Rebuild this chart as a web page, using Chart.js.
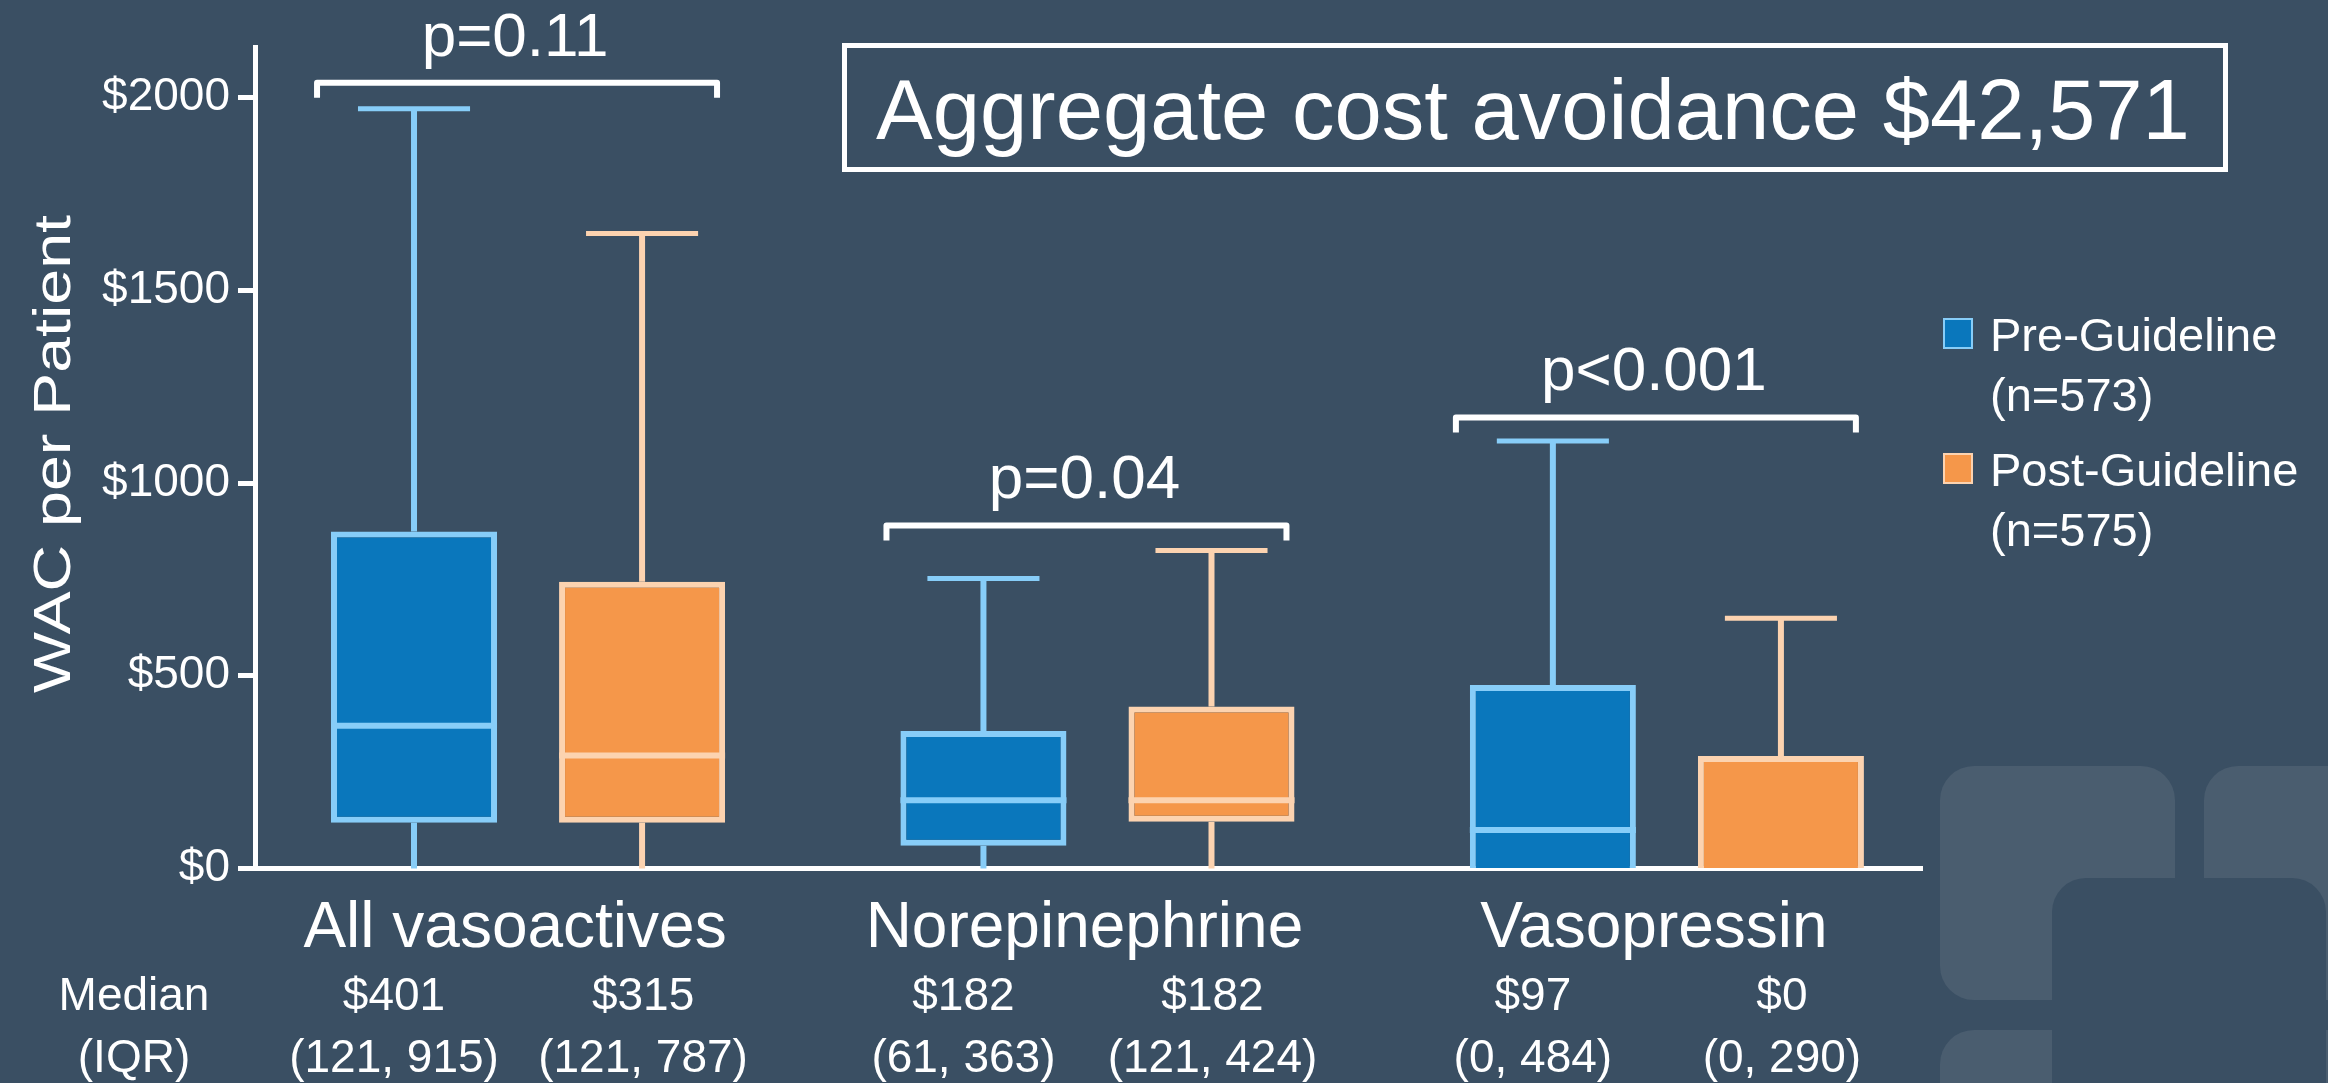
<!DOCTYPE html>
<html>
<head>
<meta charset="utf-8">
<script src="https://cdn.jsdelivr.net/npm/chart.js@4.4.1/dist/chart.umd.min.js"></script>
<style>
  html, body { margin: 0; padding: 0; background: #3a4f63; overflow: hidden; }
  #wrap { position: relative; width: 2328px; height: 1083px; }
  canvas { display: block; }
</style>
</head>
<body>
<div id="wrap"><canvas id="c" width="2328" height="1083"></canvas></div>
<script>
// ---------------- data ----------------
const categories = ['All vasoactives', 'Norepinephrine', 'Vasopressin'];
const seriesNames = ['Pre-Guideline', 'Post-Guideline'];
const seriesN = [573, 575];

// box-plot values as drawn (WAC per patient, $)
const preMin    = [0, 0, 0];
const preQ1     = [119, 59, 0];
const preMedian = [370, 177, 100];
const preQ3     = [874, 357, 476];
const preMax    = [1971, 752, 1109];

const postMin    = [0, 0, 0];
const postQ1     = [119, 121, 0];
const postMedian = [293, 177, 0];
const postQ3     = [744, 420, 292];
const postMax    = [1647, 825, 649];

// printed summary values under the chart
const prePrintMedian  = [401, 182, 97];
const prePrintQ1      = [121, 61, 0];
const prePrintQ3      = [915, 363, 484];
const postPrintMedian = [315, 182, 0];
const postPrintQ1     = [121, 121, 0];
const postPrintQ3     = [787, 424, 290];

// significance annotations
const pLabels = ['p=0.11', 'p=0.04', 'p<0.001'];
const bracketLevel = [2038, 890, 1170];

const yTicks = [0, 500, 1000, 1500, 2000];
const yAxisTitle = 'WAC per Patient';
const aggregateText = 'Aggregate cost avoidance $42,571';

// ---------------- style ----------------
const FONT = "'Liberation Sans', Arial, Helvetica, sans-serif";
const BG = '#3a4f63';
const DECO = '#4a5d6f';
const preFill = '#0a77bc', preLine = '#87cdf8';
const postFill = '#f5974a', postLine = '#fcd3b0';

const stats = [
  { min: preMin, q1: preQ1, med: preMedian, q3: preQ3, max: preMax, pm: prePrintMedian, pq1: prePrintQ1, pq3: prePrintQ3, textShift: -20 },
  { min: postMin, q1: postQ1, med: postMedian, q3: postQ3, max: postMax, pm: postPrintMedian, pq1: postPrintQ1, pq3: postPrintQ3, textShift: 1 }
];

Chart.defaults.font.family = FONT;
Chart.defaults.color = '#ffffff';

const decoPlugin = {
  id: 'deco',
  beforeDraw(chart) {
    const ctx = chart.ctx;
    ctx.save();
    ctx.fillStyle = BG;
    ctx.fillRect(0, 0, chart.width, chart.height);
    ctx.fillStyle = DECO;
    [[1940, 766], [2204, 766], [1940, 1030], [2204, 1030]].forEach(([x, y]) => {
      ctx.beginPath(); ctx.roundRect(x, y, 235, 234, 34); ctx.fill();
    });
    ctx.fillStyle = BG;
    ctx.beginPath(); ctx.roundRect(2052, 878, 274, 420, 34); ctx.fill();
    ctx.restore();
  }
};

function seg(ctx, x1, y1, x2, y2) {
  ctx.beginPath(); ctx.moveTo(x1, y1); ctx.lineTo(x2, y2); ctx.stroke();
}

const boxPlugin = {
  id: 'boxparts',
  afterDatasetsDraw(chart) {
    const ctx = chart.ctx, ys = chart.scales.y;
    chart.data.datasets.forEach((ds, d) => {
      const meta = chart.getDatasetMeta(d);
      const st = stats[d];
      meta.data.forEach((el, i) => {
        const x = el.x, w = el.width;
        ctx.save();
        ctx.strokeStyle = ds.borderColor;
        ctx.lineCap = 'butt';
        ctx.lineWidth = 6;
        seg(ctx, x, ys.getPixelForValue(st.q3[i]), x, ys.getPixelForValue(st.max[i]));
        if (st.q1[i] > st.min[i]) seg(ctx, x, ys.getPixelForValue(st.q1[i]), x, ys.getPixelForValue(st.min[i]));
        ctx.lineWidth = 5;
        const cw = w * 0.675;
        seg(ctx, x - cw / 2, ys.getPixelForValue(st.max[i]), x + cw / 2, ys.getPixelForValue(st.max[i]));
        if (st.med[i] > st.min[i]) {
          ctx.lineWidth = 6;
          seg(ctx, x - w / 2, ys.getPixelForValue(st.med[i]), x + w / 2, ys.getPixelForValue(st.med[i]));
        }
        ctx.restore();
      });
    });
  }
};

const textPlugin = {
  id: 'texts',
  afterDraw(chart) {
    const ctx = chart.ctx, xs = chart.scales.x, ys = chart.scales.y;
    const m0 = chart.getDatasetMeta(0), m1 = chart.getDatasetMeta(1);
    ctx.save();
    ctx.fillStyle = '#ffffff';
    ctx.strokeStyle = '#ffffff';

    // y-axis title (stretched along its reading direction)
    ctx.save();
    ctx.translate(70, 454);
    ctx.rotate(-Math.PI / 2);
    ctx.scale(1.24, 1);
    ctx.font = `52px ${FONT}`;
    ctx.textAlign = 'center';
    ctx.textBaseline = 'alphabetic';
    ctx.fillText(yAxisTitle, 0, 0);
    ctx.restore();

    ctx.textAlign = 'center';
    ctx.textBaseline = 'alphabetic';

    // category labels
    ctx.font = `64px ${FONT}`;
    categories.forEach((c, i) => {
      ctx.fillText(c, xs.getPixelForValue(i + 1) - 13, 947);
    });

    // median / IQR rows
    ctx.font = `46px ${FONT}`;
    ctx.fillText('Median', 134, 1010);
    ctx.fillText('(IQR)', 134, 1072);
    [m0, m1].forEach((meta, d) => {
      const st = stats[d];
      meta.data.forEach((el, i) => {
        const x = el.x + st.textShift;
        ctx.fillText('$' + st.pm[i], x, 1010);
        ctx.fillText('(' + st.pq1[i] + ', ' + st.pq3[i] + ')', x, 1072);
      });
    });

    // significance brackets
    ctx.lineWidth = 6;
    ctx.lineJoin = 'round';
    ctx.font = `62px ${FONT}`;
    categories.forEach((c, i) => {
      const cx = (m0.data[i].x + m1.data[i].x) / 2 - 11;
      const y = ys.getPixelForValue(bracketLevel[i]);
      ctx.beginPath();
      ctx.moveTo(cx - 200, y + 15);
      ctx.lineTo(cx - 200, y);
      ctx.lineTo(cx + 200, y);
      ctx.lineTo(cx + 200, y + 15);
      ctx.stroke();
      ctx.fillText(pLabels[i], cx - 2, y - 27);
    });

    // aggregate box
    ctx.lineWidth = 5;
    ctx.lineJoin = 'miter';
    ctx.strokeRect(844.5, 45.5, 1381, 124);
    ctx.font = `85px ${FONT}`;
    ctx.fillText(aggregateText, 1533, 139);

    // legend
    ctx.textAlign = 'left';
    ctx.font = `47px ${FONT}`;
    chart.data.datasets.forEach((ds, d) => {
      const top = 318 + d * 135;
      ctx.fillStyle = ds.borderColor;
      ctx.fillRect(1943, top, 30, 31);
      ctx.fillStyle = ds.backgroundColor;
      ctx.fillRect(1945, top + 2, 26, 27);
      ctx.fillStyle = '#ffffff';
      ctx.fillText(ds.label, 1990, top + 33);
      ctx.fillText('(n=' + seriesN[d] + ')', 1990, top + 93);
    });
    ctx.restore();
  }
};

const makeData = (q1, q3) => categories.map((c, i) => ({ x: i + 1, y: [q1[i], q3[i]] }));
const skipAtZero = ctx => (ctx.raw && ctx.raw.y && ctx.raw.y[0] === 0) ? 'bottom' : false;

new Chart(document.getElementById('c'), {
  type: 'bar',
  data: {
    datasets: [
      { label: seriesNames[0], data: makeData(preQ1, preQ3), backgroundColor: preFill, borderColor: preLine,
        borderWidth: 6, borderSkipped: skipAtZero, categoryPercentage: 0.801, barPercentage: 0.728 },
      { label: seriesNames[1], data: makeData(postQ1, postQ3), backgroundColor: postFill, borderColor: postLine,
        borderWidth: 6, borderSkipped: skipAtZero, categoryPercentage: 0.801, barPercentage: 0.728 }
    ]
  },
  options: {
    responsive: false,
    animation: false,
    events: [],
    devicePixelRatio: 1,
    layout: { padding: { top: 47, right: 406, bottom: 214.5, left: 0 } },
    plugins: { legend: { display: false }, tooltip: { enabled: false }, title: { display: false } },
    scales: {
      x: {
        type: 'linear',
        offset: false,
        min: 0.5205,
        max: 3.448,
        z: 1,
        afterBuildTicks: s => { s.ticks = categories.map((c, i) => ({ value: i + 1 })); },
        afterFit: s => { s.height = 0; },
        ticks: { display: false },
        grid: { display: false, drawTicks: false, offset: false },
        border: { display: true, color: '#ffffff', width: 5 }
      },
      y: {
        min: 0,
        max: 2131,
        afterBuildTicks: s => { s.ticks = yTicks.map(v => ({ value: v })); },
        afterFit: s => { s.width = 255; },
        ticks: { color: '#ffffff', font: { size: 46 }, padding: 8, callback: v => '$' + v },
        grid: { drawOnChartArea: false, drawTicks: true, tickLength: 17, tickWidth: 5, color: '#ffffff' },
        border: { display: true, color: '#ffffff', width: 5 }
      }
    }
  },
  plugins: [decoPlugin, boxPlugin, textPlugin]
});
</script>
</body>
</html>
